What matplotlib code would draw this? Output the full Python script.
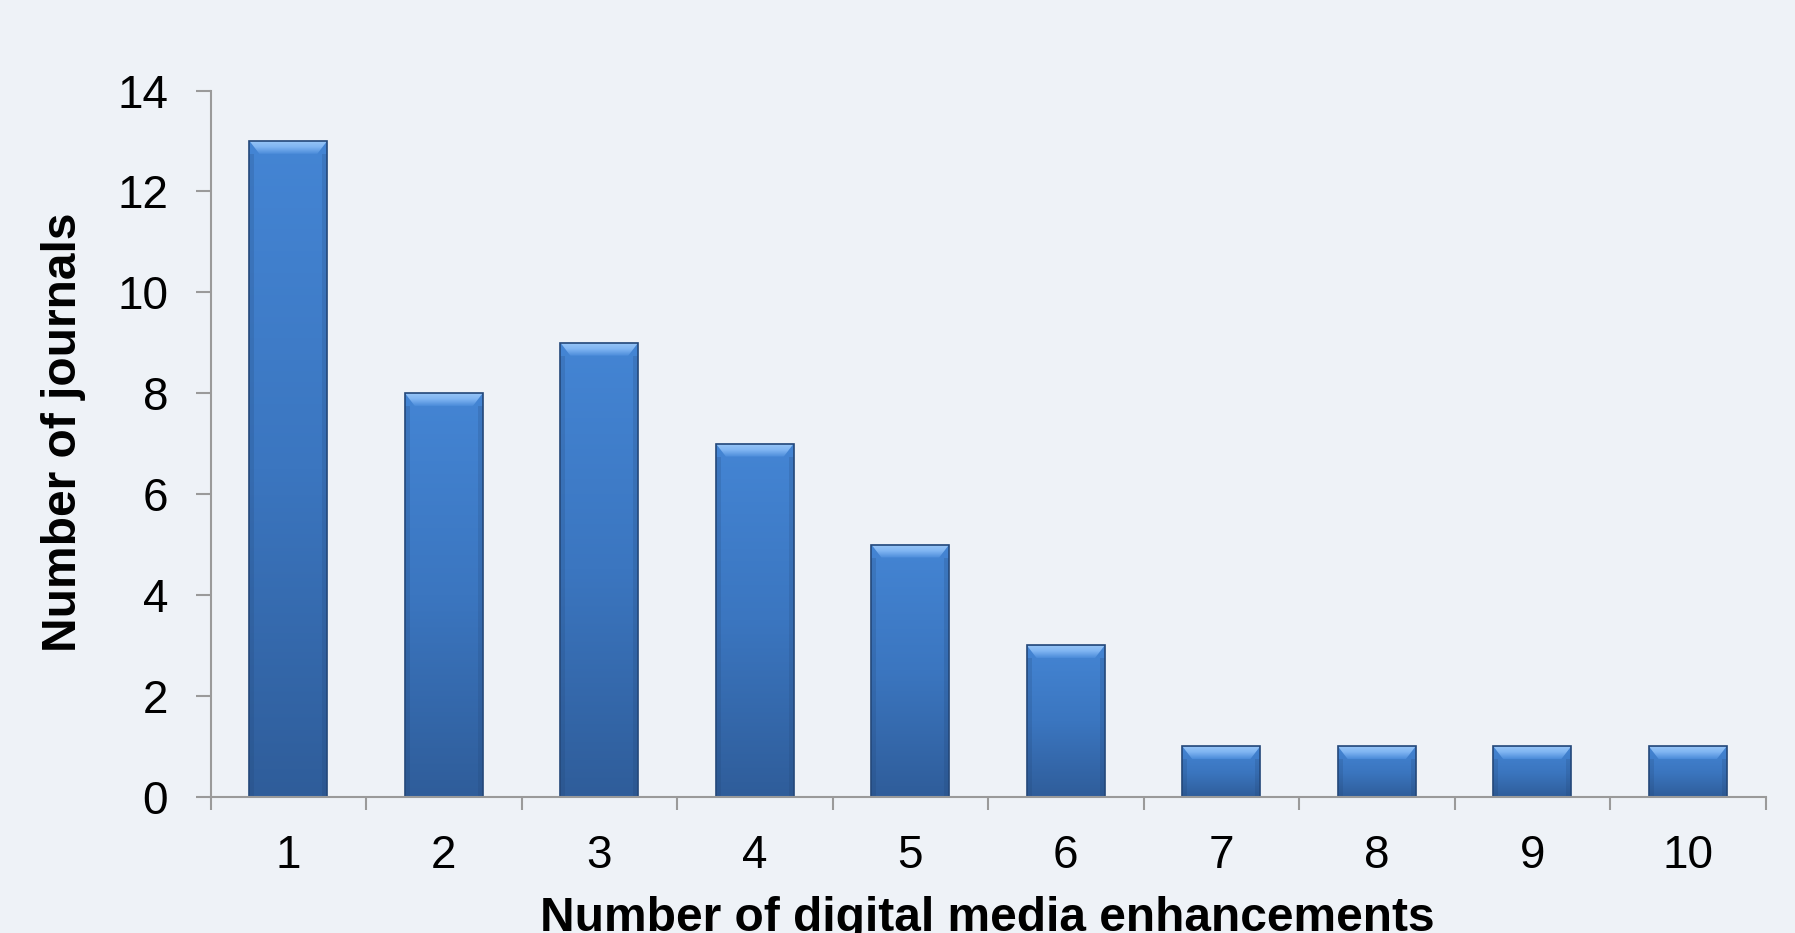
import numpy as np
import matplotlib.pyplot as plt
from matplotlib.colors import LinearSegmentedColormap
from matplotlib.patches import Polygon

# journals grouped by how many digital media enhancements they use
enhancements = [1, 2, 3, 4, 5, 6, 7, 8, 9, 10]
journals = [13, 8, 9, 7, 5, 3, 1, 1, 1, 1]

bg = '#eef2f7'
axis_grey = '#9a9a9a'
plt.rcParams['font.family'] = ['Liberation Sans', 'DejaVu Sans']

fig = plt.figure(figsize=(17.95, 9.33), dpi=100, facecolor=bg)
ax = fig.add_axes([210.6 / 1795, 1 - 796.8 / 933, (1765.5 - 210.6) / 1795, (796.8 - 90.5) / 933])
ax.set_facecolor(bg)

bars = ax.bar(enhancements, journals, width=0.5, color='none', edgecolor='#24487a',
              linewidth=1.2, zorder=4)

body = LinearSegmentedColormap.from_list('body', ['#2f5d9a', '#3b76c0', '#4485d4'])
bevel = LinearSegmentedColormap.from_list('bevel', ['#4a8ad9', '#7fb5f2', '#9cc8f7'])
grad = np.linspace(0, 1, 256).reshape(-1, 1)

# pixel sizes of the bevel converted to data units
px_x = 1 / 155.5
px_y = 14 / 706.0
for b in bars:
    x0, w, h = b.get_x(), b.get_width(), b.get_height()
    im = ax.imshow(grad, cmap=body, origin='lower', aspect='auto',
                   extent=[x0, x0 + w, 0, h], zorder=2)
    im.set_clip_path(b)
    # light bevel along the top edge
    dx, dy = 10 * px_x, 13 * px_y
    poly = Polygon([[x0, h], [x0 + w, h], [x0 + w - dx, h - dy], [x0 + dx, h - dy]],
                   closed=True, facecolor='none', edgecolor='none')
    ax.add_patch(poly)
    top = ax.imshow(grad, cmap=bevel, origin='lower', aspect='auto',
                    extent=[x0, x0 + w, h - dy, h], zorder=3)
    top.set_clip_path(poly)
    # darker side strips
    for sx in (x0, x0 + w - 5 * px_x):
        ax.fill_between([sx, sx + 5 * px_x], 0, h - dy, color='#1f3f6b', alpha=0.18,
                        linewidth=0, zorder=3)

ax.set_xlim(0.5, 10.5)
ax.set_ylim(0, 14)
ax.set_yticks(range(0, 15, 2))

# ticks sit between categories, labels at the category centres
ax.set_xticks(np.arange(0.5, 11, 1))
ax.set_xticklabels([])
ax.set_xticks(enhancements, minor=True)
ax.set_xticklabels([str(e) for e in enhancements], minor=True)

for s in ('top', 'right'):
    ax.spines[s].set_visible(False)
for s in ('left', 'bottom'):
    ax.spines[s].set_color(axis_grey)
    ax.spines[s].set_linewidth(1.5)
ax.spines['bottom'].set_zorder(5)

ax.tick_params(axis='y', which='major', length=10.5, width=1.5, color=axis_grey,
               labelsize=33, pad=20)
ax.tick_params(axis='x', which='major', length=9.5, width=1.5, color=axis_grey)
ax.tick_params(axis='x', which='minor', length=0, labelsize=33, pad=27)

fig.text(64 / 1795, 1 - 432 / 933, 'Number of journals', rotation=90, fontsize=34.5,
         fontweight='bold', ha='center', va='center')
fig.text(987 / 1795, 1 - 896 / 933, 'Number of digital media enhancements', fontsize=34.5,
         fontweight='bold', ha='center', va='top')

plt.savefig('out.png', dpi=100, facecolor=bg)
